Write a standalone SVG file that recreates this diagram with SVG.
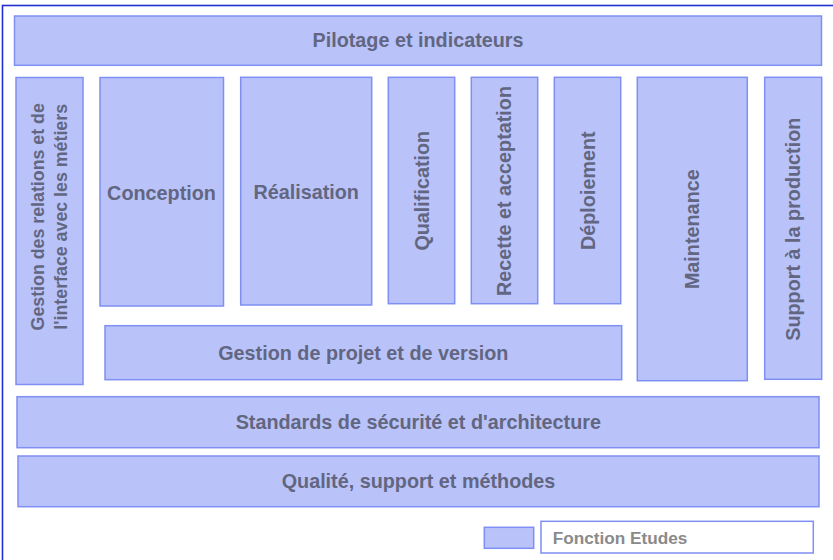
<svg xmlns="http://www.w3.org/2000/svg" width="833" height="560" viewBox="0 0 833 560">
<style>
.box{fill:#b9c3fa;stroke:#7f8ff3;stroke-width:1.5}
.lbl{font-family:"Liberation Sans",Arial,sans-serif;font-weight:bold;font-size:19.8px;fill:#626680;text-anchor:middle}
.sm{font-size:17.8px}
.leg{font-family:"Liberation Sans",Arial,sans-serif;font-weight:bold;font-size:17.2px;fill:#8a8a8a}
</style>
<rect width="833" height="560" fill="#ffffff"/>
<rect x="2.5" y="5.5" width="860" height="600" fill="none" stroke="#1f2fd0" stroke-width="1.6"/>
<g id="pilotage"><rect class="box" x="14.5" y="16" width="807" height="49.3"/><text class="lbl" x="418" y="47.3">Pilotage et indicateurs</text></g>
<g id="gestion-relations"><rect class="box" x="16" y="77.5" width="67" height="307"/><text class="lbl sm" transform="translate(43.6,216.8) rotate(-90)">Gestion des relations et de</text><text class="lbl sm" transform="translate(67.4,216.8) rotate(-90)">l'interface avec les métiers</text></g>
<g id="conception"><rect class="box" x="100" y="77.5" width="123.5" height="228.5"/><text class="lbl" x="161.5" y="200">Conception</text></g>
<g id="realisation"><rect class="box" x="240.7" y="77.3" width="131" height="227.7"/><text class="lbl" x="306.2" y="199">Réalisation</text></g>
<g id="qualification"><rect class="box" x="388.3" y="77.3" width="66.4" height="226.4"/><text class="lbl" transform="translate(429,190.7) rotate(-90)">Qualification</text></g>
<g id="recette"><rect class="box" x="471.3" y="77.3" width="66.4" height="226.4"/><text class="lbl" transform="translate(511,191) rotate(-90)">Recette et acceptation</text></g>
<g id="deploiement"><rect class="box" x="554.3" y="77.3" width="66.4" height="226.4"/><text class="lbl" transform="translate(594.5,190.7) rotate(-90)">Déploiement</text></g>
<g id="maintenance"><rect class="box" x="637.3" y="77.3" width="110" height="303.4"/><text class="lbl" transform="translate(699.3,229.2) rotate(-90)">Maintenance</text></g>
<g id="support"><rect class="box" x="764.7" y="77.3" width="57" height="302"/><text class="lbl" transform="translate(800,229.2) rotate(-90)">Support à la production</text></g>
<g id="gestion-projet"><rect class="box" x="105" y="325.7" width="516.7" height="54"/><text class="lbl" x="363.3" y="359.7">Gestion de projet et de version</text></g>
<g id="standards"><rect class="box" x="17" y="396.7" width="802" height="51"/><text class="lbl" x="418.3" y="429">Standards de sécurité et d'architecture</text></g>
<g id="qualite"><rect class="box" x="18" y="456" width="801" height="50.7"/><text class="lbl" x="418.5" y="488">Qualité, support et méthodes</text></g>
<g id="legende"><rect class="box" x="484.3" y="527.3" width="49.4" height="21"/><rect x="541" y="521.3" width="272.3" height="31.7" fill="#ffffff" stroke="#7f8ff3" stroke-width="1.5"/><text class="leg" x="552.7" y="544.3">Fonction Etudes</text></g>
<g id="connectors"></g>
</svg>
